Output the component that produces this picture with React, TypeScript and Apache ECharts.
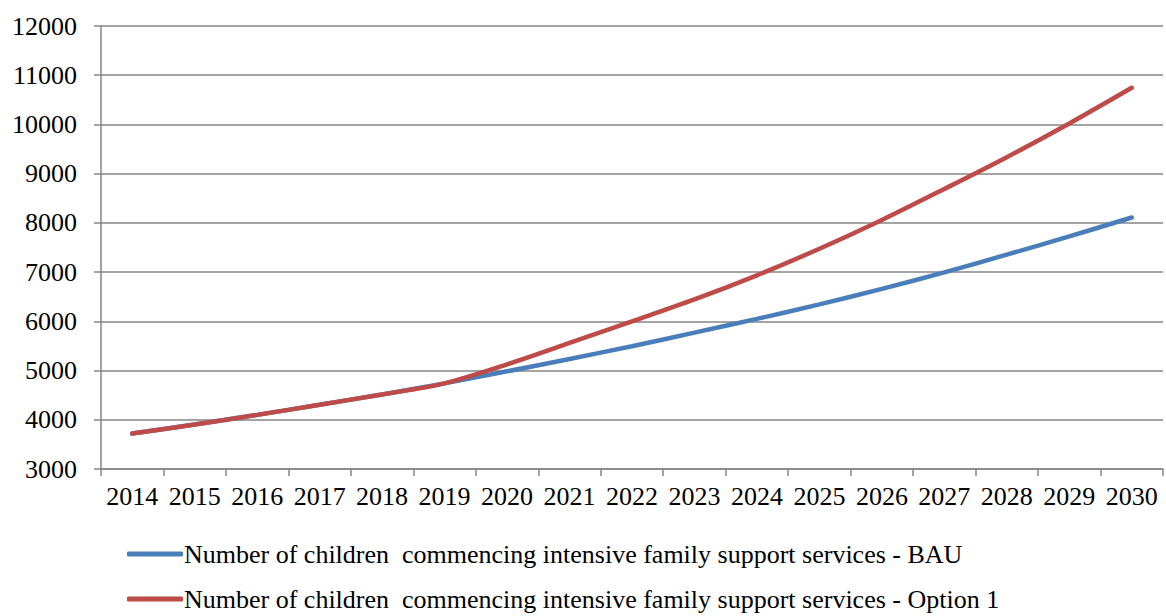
import React, { useEffect, useRef } from "react";
import * as echarts from "echarts";

const years = ["2014","2015","2016","2017","2018","2019","2020","2021","2022","2023","2024","2025","2026","2027","2028","2029","2030"];
const bau = [3720, 3905, 4100, 4305, 4515, 4740, 4985, 5235, 5495, 5770, 6050, 6345, 6660, 6995, 7355, 7725, 8110];
const option1 = [3720, 3905, 4100, 4305, 4515, 4740, 5125, 5560, 6000, 6445, 6935, 7475, 8060, 8690, 9335, 10020, 10745];
const names = [
  "Number of children  commencing intensive family support services - BAU",
  "Number of children  commencing intensive family support services - Option 1",
];

export default function App() {
  const ref = useRef<HTMLDivElement>(null);
  useEffect(() => {
    if (!ref.current) return;
    const chart = echarts.init(ref.current, null, { renderer: "svg" });
    const font = "Liberation Serif";
    const lbl = { fontFamily: font, fontSize: 26, color: "#000" };
    const legendBase = {
      orient: "horizontal",
      left: 127,
      itemWidth: 56,
      itemHeight: 5,
      icon: "roundRect",
      padding: 0,
      textStyle: { ...lbl, padding: [0, 0, 0, -4] },
    };
    chart.setOption({
      animation: false,
      textStyle: { fontFamily: font, fontSize: 26 },
      grid: { left: 101, right: 3, top: 26, bottom: 147, containLabel: false },
      legend: [
        { ...legendBase, top: 541, data: [names[0]] },
        { ...legendBase, top: 586, data: [names[1]] },
      ],
      xAxis: {
        type: "category",
        data: years,
        boundaryGap: true,
        axisLine: { lineStyle: { color: "#868686", width: 1.5 } },
        axisTick: { show: true, length: 7, interval: 0, lineStyle: { color: "#868686", width: 1.5 } },
        axisLabel: { ...lbl, interval: 0, margin: 14, hideOverlap: false },
        splitLine: { show: false },
      },
      yAxis: {
        type: "value",
        min: 3000,
        max: 12000,
        interval: 1000,
        axisLine: { show: true, lineStyle: { color: "#868686", width: 1.5 } },
        axisTick: { show: true, length: 7, lineStyle: { color: "#868686", width: 1.5 } },
        axisLabel: { ...lbl, margin: 24, formatter: (v: number) => String(v) },
        splitLine: { show: true, lineStyle: { color: "#868686", width: 1.5 } },
      },
      series: [
        {
          name: names[0],
          type: "line",
          data: bau,
          smooth: 0.3,
          showSymbol: false,
          symbol: "none",
          lineStyle: { color: "#4A7EBB", width: 4.5, cap: "round" },
          itemStyle: { color: "#4A7EBB" },
        },
        {
          name: names[1],
          type: "line",
          data: option1,
          smooth: 0.3,
          showSymbol: false,
          symbol: "none",
          lineStyle: { color: "#BE4B48", width: 4.5, cap: "round" },
          itemStyle: { color: "#BE4B48" },
        },
      ],
    });
    return () => chart.dispose();
  }, []);
  return (
    <div
      ref={ref}
      style={{ position: "absolute", left: 0, top: 0, width: 1166, height: 616, background: "#fff" }}
    />
  );
}
